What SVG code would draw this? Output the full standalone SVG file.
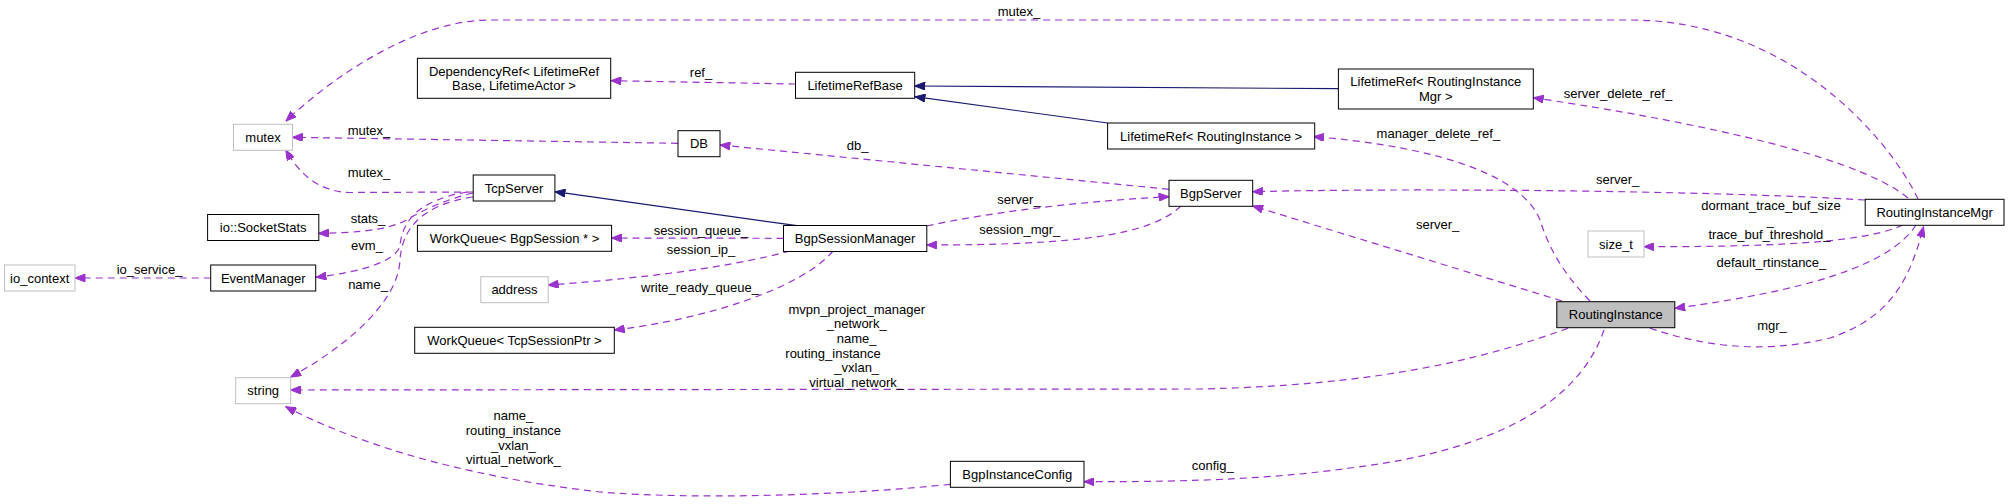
<svg xmlns="http://www.w3.org/2000/svg" width="2009" height="504" viewBox="0 0 2009 504">
<style>
text{font-family:"Liberation Sans",Arial,sans-serif;font-size:13px;fill:#000;text-anchor:middle}
.n{fill:#fff;stroke:#000;stroke-width:1}
.g{fill:#fff;stroke:#bfbfbf;stroke-width:1}
.h{fill:#bfbfbf;stroke:#000;stroke-width:1}
.d{fill:none;stroke:#9a32cd;stroke-width:1.2;stroke-dasharray:7,5;marker-end:url(#ap)}
.i{fill:none;stroke:#191970;stroke-width:1.2;marker-end:url(#ab)}
</style>
<defs>
<marker id="ap" viewBox="0 0 10 8" refX="10" refY="4" markerWidth="11" markerHeight="8" orient="auto" markerUnits="userSpaceOnUse"><path d="M0,0 L10,4 L0,8 z" fill="#9a32cd" stroke="#9a32cd"/></marker>
<marker id="ab" viewBox="0 0 10 8" refX="10" refY="4" markerWidth="11" markerHeight="8" orient="auto" markerUnits="userSpaceOnUse"><path d="M0,0 L10,4 L0,8 z" fill="#191970" stroke="#191970"/></marker>
</defs>
<rect width="2009" height="504" fill="#fff"/>
<g id="connectors">
<path class="d" d="M1918,199 C1890,140 1790,20 1630,20 L490,20 C420,20 340,70 286,121"/>
<text x="1019" y="16">mutex_</text>
<path class="d" d="M795.5,84 L611,80.7"/>
<text x="701" y="77">ref_</text>
<path class="i" d="M1338.8,88.7 L915,86"/>
<path class="i" d="M1107.6,123 L915,96.7"/>
<path class="d" d="M678,143.3 L292.4,137.3"/>
<text x="369" y="135">mutex_</text>
<path class="d" d="M1169,189.3 L720,145"/>
<text x="857.6" y="150">db_</text>
<path class="d" d="M473,192 L350,192.5 C320,192 300,175 285.7,150"/>
<text x="369" y="177">mutex_</text>
<path class="d" d="M473,193 C430,203 405,222 400,223 C380,231 350,233 318.5,233.3"/>
<text x="368" y="223">stats_</text>
<path class="d" d="M467,192 C420,200 402,220 400,246 C395,262 360,272 316,277.3"/>
<text x="367" y="250">evm_</text>
<path class="d" d="M473,197 C420,205 402,230 400,260 C398,305 340,350 290.7,377"/>
<text x="368" y="289">name_</text>
<path class="d" d="M210.7,278 L75,278"/>
<text x="149.6" y="274">io_service_</text>
<path class="i" d="M797,225.7 L555,191.7"/>
<path class="d" d="M926.8,226 C1000,210 1100,200 1169,196.7"/>
<text x="1019" y="204">server_</text>
<path class="d" d="M1181,206 C1150,235 1080,245 926.8,245"/>
<text x="1019.8" y="234">session_mgr_</text>
<path class="d" d="M783.5,238.3 L611.6,238"/>
<text x="701" y="235">session_queue_</text>
<path class="d" d="M790,251 C720,270 620,280 548.2,285"/>
<text x="701" y="254">session_ip_</text>
<path class="d" d="M833,251 C800,290 700,320 614.3,330"/>
<text x="700" y="292">write_ready_queue_</text>
<path class="d" d="M1908,198 C1850,150 1650,115 1533.3,97.7"/>
<text x="1618" y="97.5">server_delete_ref_</text>
<path class="d" d="M1590,301 C1560,270 1548,245 1540,220 C1520,170 1420,145 1313.6,136.7"/>
<text x="1438.4" y="137.5">manager_delete_ref_</text>
<path class="d" d="M1865,200 C1700,190 1400,188 1252.7,191.7"/>
<text x="1617.6" y="184">server_</text>
<path class="d" d="M1562,301 L1252.7,206"/>
<text x="1437.6" y="229">server_</text>
<path class="d" d="M1903,225 C1870,240 1800,247 1644,246.7"/>
<text x="1771" y="209.5">dormant_trace_buf_size</text>
<text x="1770" y="224.5">_</text>
<text x="1769.5" y="239">trace_buf_threshold_</text>
<path class="d" d="M1916,225 C1890,265 1810,290 1674.8,308.3"/>
<text x="1771.4" y="267">default_rtinstance_</text>
<path class="d" d="M1650,328.3 C1700,345 1760,355 1830,338 C1890,318 1910,280 1923.5,226.7"/>
<text x="1772" y="329.5">mgr_</text>
<path class="d" d="M1568,328.3 C1480,360 1380,385 1200,389 L290.6,390"/>
<text x="856.7" y="313.5">mvpn_project_manager</text>
<text x="856.7" y="328">_network_</text>
<text x="856.7" y="343">name_</text>
<text x="833" y="357.5">routing_instance</text>
<text x="856.7" y="372">_vxlan_</text>
<text x="856.7" y="386.5">virtual_network_</text>
<path class="d" d="M1604,330 C1580,400 1500,450 1350,468 C1280,478 1200,482 1084,481.7"/>
<text x="1212.7" y="469.5">config_</text>
<path class="d" d="M950.4,484.3 C850,495 700,500 600,492 C450,475 350,440 285.7,406.7"/>
<text x="513.4" y="420">name_</text>
<text x="513.4" y="434.8">routing_instance</text>
<text x="513.4" y="449.5">_vxlan_</text>
<text x="513.4" y="464">virtual_network_</text>
</g>
<g id="io_context"><rect class="g" x="4.5" y="265" width="70.5" height="26"/><text x="39.7" y="282.5">io_context</text></g>
<g id="EventManager"><rect class="n" x="210.7" y="265" width="105" height="26"/><text x="263.2" y="282.5">EventManager</text></g>
<g id="SocketStats"><rect class="n" x="207.6" y="214.5" width="111.2" height="26"/><text x="263.2" y="232">io::SocketStats</text></g>
<g id="mutex"><rect class="g" x="233.5" y="124.3" width="59" height="26"/><text x="263" y="141.8">mutex</text></g>
<g id="string"><rect class="g" x="235.7" y="377.7" width="55" height="26"/><text x="263.2" y="395.2">string</text></g>
<g id="DependencyRef"><rect class="n" x="417.4" y="58.3" width="193.3" height="40"/><text x="514" y="75.5">DependencyRef&lt; LifetimeRef</text><text x="514" y="90">Base, LifetimeActor &gt;</text></g>
<g id="TcpServer"><rect class="n" x="473.2" y="175" width="81.7" height="26"/><text x="514" y="192.5">TcpServer</text></g>
<g id="WorkQueueBgpSession"><rect class="n" x="417.4" y="225.3" width="194.2" height="26"/><text x="514.5" y="242.8">WorkQueue&lt; BgpSession * &gt;</text></g>
<g id="address"><rect class="g" x="480.8" y="276.7" width="67.4" height="26"/><text x="514.5" y="294.2">address</text></g>
<g id="WorkQueueTcpSessionPtr"><rect class="n" x="414.7" y="327.3" width="199.6" height="26"/><text x="514.5" y="344.8">WorkQueue&lt; TcpSessionPtr &gt;</text></g>
<g id="DB"><rect class="n" x="678" y="130.7" width="42" height="26"/><text x="699" y="148.2">DB</text></g>
<g id="LifetimeRefBase"><rect class="n" x="795.5" y="72.3" width="119.2" height="26"/><text x="855.1" y="89.8">LifetimeRefBase</text></g>
<g id="BgpSessionManager"><rect class="n" x="783.5" y="225.5" width="143.3" height="26"/><text x="855.1" y="243">BgpSessionManager</text></g>
<g id="BgpInstanceConfig"><rect class="n" x="950.4" y="461.3" width="133.6" height="26"/><text x="1017.2" y="478.8">BgpInstanceConfig</text></g>
<g id="LifetimeRefRoutingInstance"><rect class="n" x="1107.6" y="123" width="207.1" height="26"/><text x="1211.1" y="140.5">LifetimeRef&lt; RoutingInstance &gt;</text></g>
<g id="BgpServer"><rect class="n" x="1169" y="180.3" width="83.7" height="26"/><text x="1210.8" y="197.8">BgpServer</text></g>
<g id="LifetimeRefRoutingInstanceMgr"><rect class="n" x="1338.4" y="69" width="194.9" height="40"/><text x="1435.8" y="85.5">LifetimeRef&lt; RoutingInstance</text><text x="1435.8" y="100.5">Mgr &gt;</text></g>
<g id="RoutingInstance"><rect class="h" x="1556.8" y="301.7" width="118" height="26"/><text x="1615.8" y="319.2">RoutingInstance</text></g>
<g id="size_t"><rect class="g" x="1588" y="231" width="56" height="26"/><text x="1616" y="248.5">size_t</text></g>
<g id="RoutingInstanceMgr"><rect class="n" x="1865.2" y="199.3" width="138.8" height="26"/><text x="1934.6" y="216.8">RoutingInstanceMgr</text></g>
</svg>
